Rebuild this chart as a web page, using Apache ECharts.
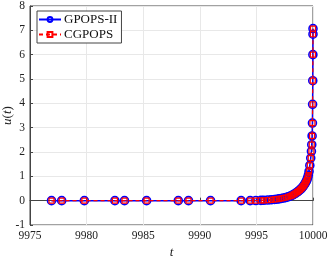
<!DOCTYPE html>
<html><head><meta charset="utf-8">
<script src="https://cdn.jsdelivr.net/npm/echarts@6/dist/echarts.min.js"></script>
<style>html,body{margin:0;padding:0;background:#fff}#c{width:329px;height:256px}</style>
</head><body><div id="c"></div>
<script>
var tVals = [9976.9, 9977.8, 9979.8, 9982.5, 9983.35, 9985.3, 9988.1, 9989.0, 9990.95, 9993.65,
  9994.45, 9994.95, 9995.4, 9995.65, 9996.0, 9996.3, 9996.6, 9996.8, 9997.0, 9997.2,
  9997.4, 9997.6, 9997.8, 9998.0, 9998.15, 9998.3, 9998.45, 9998.6, 9998.72, 9998.84,
  9998.95, 9999.05, 9999.15, 9999.24, 9999.32, 9999.4, 9999.47, 9999.53, 9999.59, 9999.65,
  9999.72, 9999.8, 9999.86, 9999.89, 9999.92, 9999.95, 9999.965, 9999.98, 9999.99, 9999.998, 10000];
var uGpops = [0, 0, 0, 0, 0, 0, 0, 0, 0, 0,
  0.003, 0.005, 0.01, 0.015, 0.025, 0.035, 0.05, 0.06, 0.075, 0.09,
  0.11, 0.13, 0.16, 0.19, 0.22, 0.26, 0.3, 0.35, 0.39, 0.44,
  0.49, 0.54, 0.6, 0.66, 0.72, 0.79, 0.86, 0.95, 1.05, 1.2,
  1.45, 1.75, 2.03, 2.3, 2.66, 3.19, 3.96, 4.93, 6.0, 6.84, 7.07];
var uCgpops = uGpops.slice();
var xTicks = [9975, 9980, 9985, 9990, 9995, 10000];
var yTicks = [-1, 0, 1, 2, 3, 4, 5, 6, 7, 8];

function pairs(t, u) { return t.map(function (v, i) { return [v, u[i]]; }); }
var FONT = '"Liberation Serif", "DejaVu Serif", serif';
var chart = echarts.init(document.getElementById('c'), null, {renderer: 'canvas'});
chart.setOption({
  animation: false,
  backgroundColor: '#fff',
  grid: {left: 30, right: 16, top: 6, bottom: 31, containLabel: false, outerBoundsMode: 'none',
    show: true, borderColor: '#444', borderWidth: 1, backgroundColor: 'transparent'},
  legend: {
    orient: 'vertical', left: 37, top: 11,
    backgroundColor: '#fff', borderColor: '#444', borderWidth: 1,
    padding: [2, 4, 2, 1], itemGap: 2, itemWidth: 22, itemHeight: 6,
    textStyle: {fontFamily: FONT, fontSize: 13, color: '#111', padding: [0, 0, 0, -2]},
    data: ['GPOPS-II', 'CGPOPS']
  },
  xAxis: {
    type: 'value', min: xTicks[0], max: xTicks[xTicks.length - 1], interval: 5,
    name: 't', nameLocation: 'middle', nameGap: 21, nameMoveOverlap: false,
    nameTextStyle: {fontFamily: FONT, fontStyle: 'italic', fontSize: 13, color: '#222'},
    axisLine: {lineStyle: {color: '#444', width: 1}},
    axisTick: {inside: true, length: 3, lineStyle: {color: '#444'}},
    axisLabel: {fontFamily: FONT, fontSize: 11.5, color: '#222', margin: 5, formatter: function (v) { return String(v); }},
    splitLine: {show: true, lineStyle: {color: '#e8e8e8', width: 1}}
  },
  yAxis: {
    type: 'value', min: yTicks[0], max: yTicks[yTicks.length - 1], interval: 1,
    name: '{i|u}({i|t})', nameLocation: 'middle', nameGap: 16, nameRotate: 90, nameMoveOverlap: false,
    nameTextStyle: {fontFamily: FONT, fontSize: 13, color: '#222',
      rich: {i: {fontFamily: FONT, fontStyle: 'italic', fontSize: 13, color: '#222'}}},
    axisLine: {show: true, lineStyle: {color: '#444', width: 1}},
    axisTick: {show: true, inside: true, length: 3, lineStyle: {color: '#444'}},
    axisLabel: {fontFamily: FONT, fontSize: 11.5, color: '#222', margin: 5, formatter: function (v) { return String(v); }},
    splitLine: {show: true, lineStyle: {color: '#e8e8e8', width: 1}}
  },
  series: [
    {
      name: 'GPOPS-II', type: 'line', data: pairs(tVals, uGpops),
      symbol: 'circle', symbolSize: 8,
      itemStyle: {color: 'rgba(0,0,0,0)', borderColor: '#0000ff', borderWidth: 1.6},
      lineStyle: {color: '#0000ff', width: 1.5},
      z: 2
    },
    {
      name: 'CGPOPS', type: 'line', data: pairs(tVals, uCgpops),
      symbol: 'rect', symbolSize: 5,
      itemStyle: {color: 'rgba(0,0,0,0)', borderColor: '#ff0000', borderWidth: 1.2},
      lineStyle: {color: '#ff0000', width: 1.2, type: [4, 3]},
      z: 3
    }
  ]
});
</script></body></html>
